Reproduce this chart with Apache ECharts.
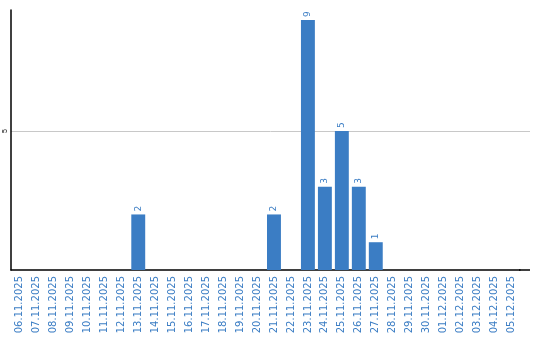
<!DOCTYPE html>
<html><head><meta charset="utf-8">
<script src="https://cdn.jsdelivr.net/npm/echarts@6/dist/echarts.min.js"></script>
<style>html,body{margin:0;padding:0;background:#fff}#c{width:540px;height:340px}</style>
</head><body><div id="c"></div>
<script>
const categories = ["06.11.2025","07.11.2025","08.11.2025","09.11.2025","10.11.2025","11.11.2025","12.11.2025","13.11.2025","14.11.2025","15.11.2025","16.11.2025","17.11.2025","18.11.2025","19.11.2025","20.11.2025","21.11.2025","22.11.2025","23.11.2025","24.11.2025","25.11.2025","26.11.2025","27.11.2025","28.11.2025","29.11.2025","30.11.2025","01.12.2025","02.12.2025","03.12.2025","04.12.2025","05.12.2025"];
const values = [0,0,0,0,0,0,0,2,0,0,0,0,0,0,0,2,0,9,3,5,3,1,0,0,0,0,0,0,0,0];
const yTicks = [5];

const blue = '#3b7dc4';
const chart = echarts.init(document.getElementById('c'), null, {renderer:'canvas'});
chart.setOption({
  animation:false,
  grid:{left:11, right:20, top:10, bottom:70, containLabel:false},
  xAxis:{type:'category', data:categories,
    axisLine:{lineStyle:{color:'#000', width:1.5}},
    axisTick:{show:false},
    axisLabel:{rotate:90, color:blue, fontSize:10, fontFamily:'DejaVu Sans', margin:6, interval:0}
  },
  yAxis:{type:'value', min:0, max:9.36, interval:5,
    axisLine:{show:true, lineStyle:{color:'#000', width:1.5}},
    axisTick:{show:false},
    splitLine:{show:false},
    axisLabel:{rotate:90, fontSize:7, color:'#000', margin:2,
      formatter:v=> yTicks.includes(v) ? String(v) : ''}
  },
  series:[{type:'bar', data:values.map(v=>v===0?null:v), barWidth:'82%',
    itemStyle:{color:blue},
    label:{show:true, position:'top', rotate:90, align:'left', verticalAlign:'middle',
      distance:3, color:blue, fontSize:9, fontFamily:'DejaVu Sans'}
  }]
});
const gx0 = 11, gx1 = 530;
const lines = yTicks.map(t=>{
  const y = Math.round(chart.convertToPixel({yAxisIndex:0}, t)) + 0.5;
  return {type:'line', z:-1, shape:{x1:gx0,y1:y,x2:gx1,y2:y}, style:{stroke:'#c8c8c8', lineWidth:1}};
});
const y0 = chart.convertToPixel({yAxisIndex:0}, 0);
lines.push({type:'line', shape:{x1:519,y1:y0,x2:530,y2:y0}, style:{stroke:'#000', lineWidth:1.5}});
chart.setOption({graphic:lines});
</script></body></html>
